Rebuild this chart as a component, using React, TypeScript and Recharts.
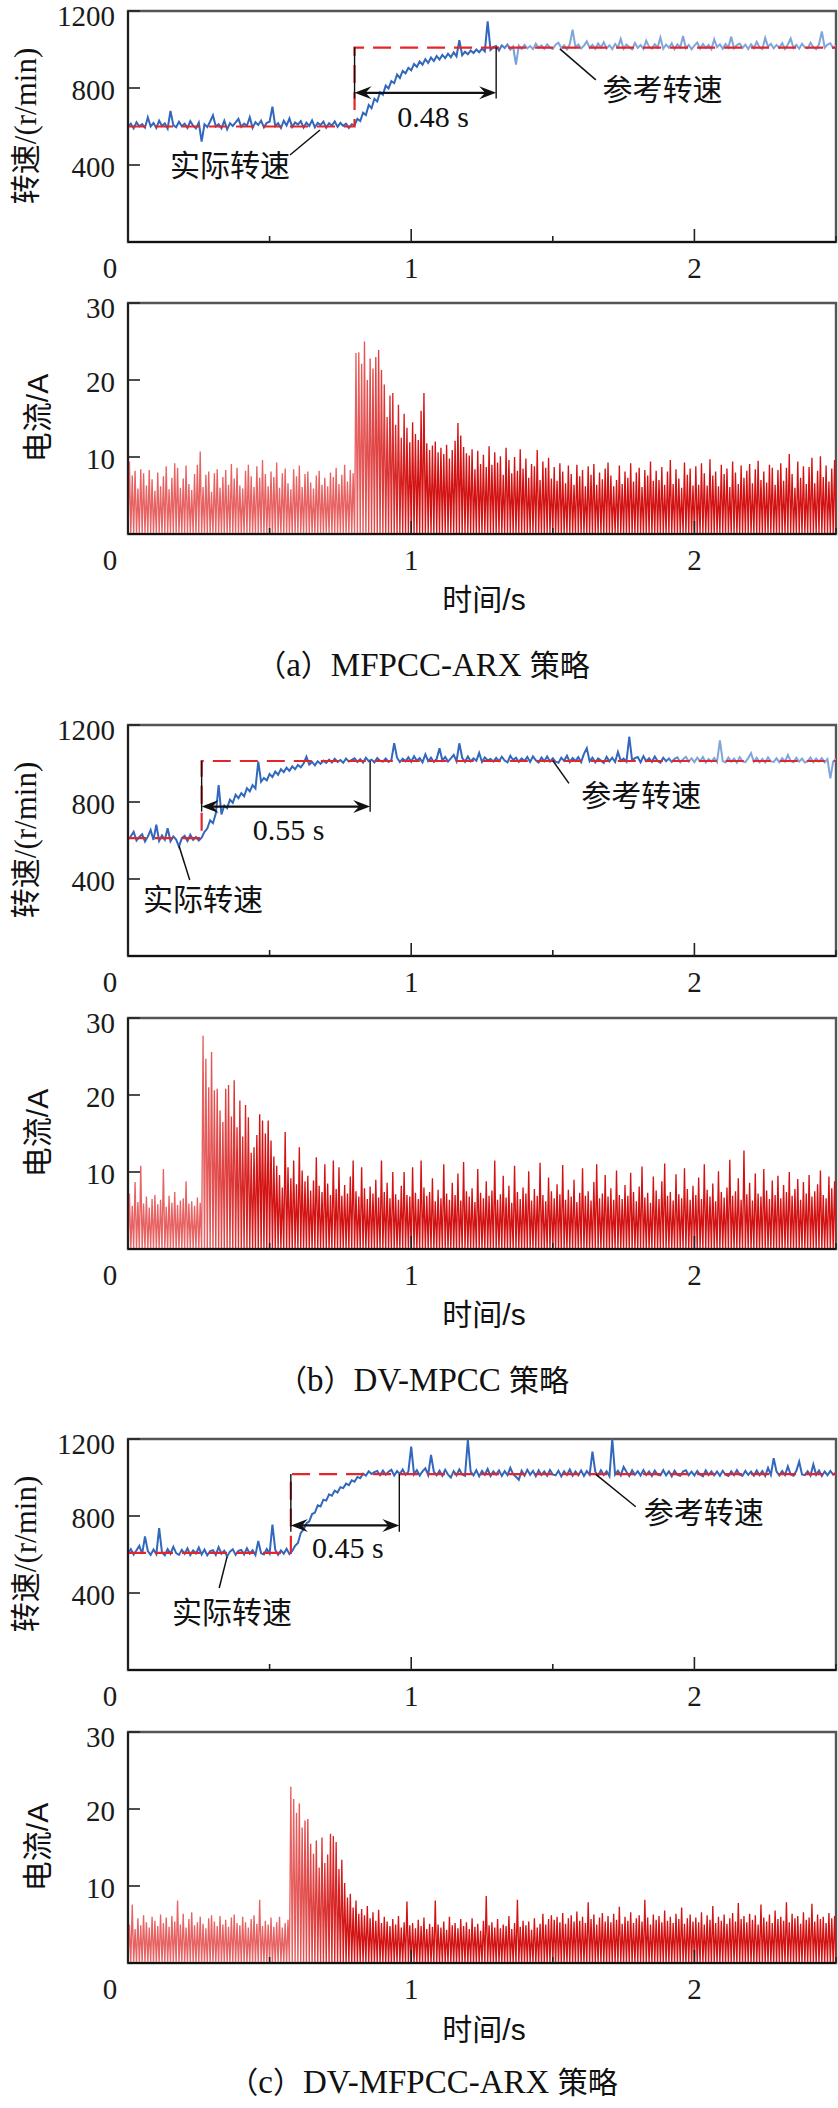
import React from 'react';
import { LineChart, Line, XAxis, YAxis, ReferenceLine, ReferenceDot, ReferenceArea } from 'recharts';

// ---- shared axis definitions ----
const TIME_STEP = 0.01;
const T_END = 2.5;
const X_TICKS = [0, 0.5, 1, 1.5, 2, 2.5];
const SPEED_TICKS = [0, 400, 800, 1200];
const CURRENT_TICKS = [0, 10, 20, 30];

// ---- (a) MFPCC-ARX ----
const SPEED_A = [
  598, 615, 590, 622, 601, 612, 594, 648, 600, 618,
  592, 630, 603, 616, 589, 681, 607, 596, 625, 601,
  614, 593, 628, 604, 590, 620, 522, 611, 597, 626,
  658, 600, 612, 590, 630, 585, 617, 603, 621, 640,
  598, 615, 604, 648, 593, 622, 608, 631, 596, 619,
  625, 703, 602, 617, 592, 630, 605, 642, 598, 621,
  610, 628, 595, 620, 603, 632, 596, 618, 607, 625,
  594, 617, 605, 626, 598, 619, 603, 614, 592, 612,
  606, 640, 628, 672, 660, 712, 695, 744, 730, 778,
  765, 812, 798, 836, 825, 870, 852, 889, 876, 905,
  892, 925, 910, 938, 921, 950, 930, 958, 940, 966,
  948, 972, 955, 978, 960, 985, 964, 1048, 970, 988,
  975, 995, 982, 1000, 986, 1004, 990, 1146, 998, 1012,
  1018, 995, 1022, 1008, 1026, 1000, 1015, 921, 1020, 1003,
  1024, 1006, 1018, 1002, 1030, 1009, 1021, 1004, 1027, 1011,
  1003, 1025, 1035, 1007, 1022, 1001, 1028, 1103, 1012, 1026,
  1005, 1020, 1042, 1009, 1024, 1003, 1031, 1010, 1038, 1006,
  1022, 1002, 1029, 1011, 1055, 1004, 1026, 1013, 1001, 1034,
  1008, 1023, 1003, 1046, 1014, 1005, 1028, 1010, 1062, 1004,
  1025, 1009, 1032, 1002, 1027, 1012, 1070, 1006, 1024, 1001,
  1020, 1036, 1005, 1028, 1008, 1024, 1002, 1052, 1012, 1027,
  1004, 1029, 1010, 1066, 1006, 1023, 1031, 1008, 1025, 1002,
  1027, 1007, 1040, 1012, 1003, 1060, 1014, 1029, 1006, 1024,
  1009, 1033, 1003, 1026, 1057, 1008, 1024, 1004, 1030, 1011,
  1006, 1035, 1012, 1002, 1027, 1094, 1009, 1025, 1032, 1008,
  1020,
];
const REF_A_T = [0, 0.8, 0.8, 2.5];
const REF_A_V = [600, 600, 1010, 1010];
const CURRENT_A = [
  9.4, 7.6, 8.2, 5.9, 8.4, 7.9, 6.3, 8.3, 7.1, 5.6,
  8.0, 6.2, 7.5, 8.8, 5.8, 7.3, 9.2, 8.6, 6.0, 7.2,
  8.9, 6.5, 5.7, 7.8, 9.0, 10.7, 6.1, 7.7, 8.1, 5.5,
  7.9, 8.4, 6.0, 7.4, 8.3, 6.4, 9.1, 7.2, 8.6, 6.3,
  5.9, 8.2, 9.0, 7.5, 6.1, 8.8, 7.3, 9.6, 7.8, 6.2,
  8.1, 7.4, 9.3, 6.0, 7.9, 8.5, 6.6, 5.8, 8.4, 7.5,
  8.9, 6.1, 7.8, 8.1, 6.7, 5.9, 7.6, 8.2, 6.4, 7.3,
  6.2, 8.0, 7.4, 8.6, 6.5, 7.7, 9.0, 6.8, 8.3, 7.9,
  23.5, 23.6, 22.1, 25.0, 20.0, 22.8, 21.5, 23.0, 23.9, 21.3,
  19.4, 15.2, 18.0, 18.3, 14.2, 16.8, 12.5, 15.6, 13.8, 11.9,
  14.5, 13.0, 12.2, 16.0, 18.3, 11.8, 10.9, 11.5, 12.0, 10.6,
  11.2, 10.4, 11.6, 9.8, 10.9, 12.1, 14.4, 12.8, 11.3, 10.5,
  10.2, 11.0, 8.4, 10.8, 9.1, 10.3, 8.7, 11.4, 9.0, 10.6,
  9.3, 10.1, 7.7, 11.2, 9.6, 7.9, 10.0, 8.2, 11.0, 8.5,
  9.8, 7.3, 9.1, 8.8, 10.9, 7.0, 9.4, 8.6, 9.9, 7.2,
  8.7, 6.9, 9.2, 8.1, 6.6, 8.9, 7.8, 6.4, 9.0, 7.5,
  8.3, 6.2, 8.8, 7.7, 9.1, 6.4, 8.0, 7.1, 8.5, 9.3,
  7.6, 6.2, 7.0, 8.9, 6.5, 8.1, 7.3, 9.2, 6.8, 8.0,
  8.6, 6.1, 8.3, 7.6, 9.4, 6.9, 8.2, 7.0, 8.7, 6.4,
  8.1, 9.6, 6.5, 8.4, 7.2, 6.0, 9.3, 7.7, 8.5, 6.3,
  8.8, 6.4, 9.2, 7.9, 6.3, 9.7, 7.6, 8.1, 6.2, 9.0,
  7.8, 8.5, 6.1, 9.4, 8.0, 6.5, 8.9, 7.3, 8.2, 9.1,
  6.6, 8.4, 9.5, 7.0, 8.1, 6.7, 9.0, 8.6, 6.4, 8.3,
  9.2, 6.9, 8.6, 10.4, 7.8, 6.0, 9.4, 7.3, 8.8, 6.5,
  8.7, 9.9, 6.6, 8.2, 10.1, 7.4, 8.9, 6.8, 8.5, 9.6,
];

// ---- (b) DV-MPCC ----
const SPEED_B = [
  604, 622, 645, 600, 618, 632, 595, 620, 655, 603,
  682, 598, 626, 604, 664, 596, 621, 605, 568, 612,
  624, 597, 630, 603, 618, 600, 615, 645, 662, 705,
  690, 740, 888, 735, 782, 768, 812, 796, 838, 820,
  846, 830, 872, 855, 888, 870, 1010, 905, 925, 912,
  945, 930, 958, 942, 970, 955, 978, 962, 985, 970,
  992, 980, 1000, 1035, 995, 1008, 990, 1012, 998, 1015,
  1003, 1020, 1005, 1024, 1008, 1018, 1004, 1026, 1010, 1019,
  1027, 1008, 1022, 1005, 1030, 1012, 1020, 1006, 1028, 1014,
  1010, 1026, 1008, 1018, 1105, 1030, 1007, 1025, 1012, 1032,
  1009, 1038, 1014, 1028, 1006, 1048, 1012, 1030, 1008, 1024,
  1079, 1016, 1034, 1010, 1027, 1045, 1012, 1105, 1030, 1009,
  1036, 1011, 1027, 1014, 1055, 1008, 1032, 1016, 1024, 1010,
  1029, 1012, 1035, 1015, 1006, 1040, 1018, 1030, 1009, 1026,
  1013, 1034, 1008, 1037, 1017, 1005, 1031, 1012, 1036, 1010,
  1027, 1009, 1004, 1030, 1014, 1040, 1008, 1028, 1013, 1033,
  1007, 1050, 1079, 1012, 1030, 1006, 1026, 1015, 1003, 1035,
  1011, 1030, 1008, 1060, 1014, 1025, 1009, 1139, 1016, 1028,
  1034, 1006, 1038, 1012, 1027, 1008, 1036, 1013, 1004, 1030,
  1012, 1026, 1008, 1024, 1032, 1006, 1022, 1035, 1010, 1027,
  1007, 1030, 1012, 1034, 1005, 1024, 1010, 1029, 1008, 1120,
  1013, 1006, 1031, 1010, 1026, 1004, 1033, 1011, 1007, 1028,
  1054, 1009, 1030, 1006, 1024, 1005, 1032, 1011, 1008, 1027,
  1006, 1028, 1010, 1044, 1013, 1007, 1030, 1009, 1025, 1005,
  1012, 1031, 1007, 1026, 1010, 1028, 1006, 1023, 923, 1010,
  1024,
];
const REF_B_T = [0, 0.26, 0.26, 2.5];
const REF_B_V = [612, 612, 1013, 1013];
const CURRENT_B = [
  7.2, 5.6, 8.7, 6.1, 10.8, 5.9, 6.8, 5.4, 6.5, 7.0,
  5.8, 6.4, 10.4, 5.5, 6.9, 6.0, 7.4, 5.7, 6.3, 6.6,
  8.8, 5.9, 6.2, 5.6, 6.7, 6.0, 27.7, 24.7, 21.0, 25.6,
  20.6, 20.8, 18.0, 16.5, 20.8, 21.3, 17.2, 21.9, 15.8, 19.3,
  14.6, 18.7, 17.1, 12.5, 13.2, 14.8, 17.5, 16.7, 15.0, 16.7,
  14.1, 12.0, 10.8, 9.6, 8.0, 15.2, 10.6, 9.2, 11.5, 8.4,
  13.2, 10.2, 8.8, 9.5, 7.6, 8.9, 11.9, 8.2, 7.4, 11.0,
  8.5, 7.0, 11.5, 7.8, 10.6, 6.9, 8.3, 7.2, 9.4, 11.5,
  7.5, 6.8, 10.6, 7.9, 6.5, 8.1, 7.2, 9.0, 6.7, 11.5,
  7.4, 8.6, 6.6, 10.0, 7.1, 6.4, 8.2, 10.0, 7.0, 6.8,
  10.6, 7.3, 6.5, 11.5, 8.0, 6.9, 7.4, 9.2, 6.2, 7.7,
  6.6, 11.0, 7.2, 6.4, 8.6, 7.0, 9.8, 6.3, 11.3, 7.5,
  6.8, 7.9, 6.1, 10.4, 7.3, 6.6, 8.8, 6.9, 7.6, 11.5,
  6.4, 7.1, 9.5, 6.7, 8.2, 6.0, 10.8, 7.4, 6.5, 8.0,
  7.2, 10.1, 6.3, 7.8, 6.9, 11.2, 7.0, 6.2, 9.3, 7.5,
  6.6, 8.4, 7.1, 10.9, 6.4, 7.7, 6.8, 9.0, 6.1, 7.3,
  10.5, 6.9, 7.5, 6.3, 8.7, 11.0, 6.6, 7.2, 9.6, 6.8,
  7.9, 6.4, 10.2, 7.0, 6.5, 8.3, 6.9, 9.9, 7.4, 6.2,
  8.1, 10.7, 6.7, 7.3, 6.0, 9.4, 7.6, 6.5, 8.8, 11.1,
  6.9, 7.4, 6.3, 9.7, 7.1, 6.6, 10.5, 7.8, 6.4, 8.2,
  7.0, 9.3, 6.5, 11.0, 7.7, 6.8, 8.5, 6.2, 10.1, 7.4,
  6.7, 8.0, 11.6, 6.9, 7.5, 9.2, 6.4, 12.8, 7.1, 8.6,
  6.3, 9.8, 7.2, 6.8, 10.4, 7.6, 6.5, 8.9, 7.0, 9.5,
  6.6, 8.3, 7.4, 10.0, 6.9, 7.8, 9.1, 6.4, 8.7, 7.2,
  9.6, 6.8, 7.5, 8.4, 10.2, 7.0, 6.6, 9.4, 7.9, 8.8,
];

// ---- (c) DV-MFPCC-ARX ----
const SPEED_C = [
  606, 628, 600, 622, 645, 603, 694, 618, 598, 626,
  602, 737, 610, 596, 628, 604, 640, 607, 598, 624,
  603, 632, 597, 621, 605, 636, 600, 625, 596, 618,
  622, 598, 638, 604, 620, 590, 615, 627, 598, 619,
  624, 600, 632, 604, 622, 597, 670, 606, 600, 628,
  605, 755, 624, 598, 621, 604, 630, 602, 618, 645,
  660, 712, 730, 762, 772, 810, 818, 856, 850, 885,
  880, 912, 905, 932, 922, 950, 945, 968, 960, 985,
  978, 1003, 996, 1020, 1010, 1032, 1018, 1028, 1034, 1012,
  1036, 1015, 1030, 1040, 1010, 1033, 1018, 1042, 1014, 1031,
  1160, 1016, 1038, 1010, 1032, 1048, 1013, 1117, 1030, 1012,
  1035, 1009, 1040, 1015, 1000, 1033, 1012, 1042, 1016, 1009,
  1195, 1030, 1011, 1038, 1006, 1034, 1014, 1044, 1008, 1032,
  1015, 1037, 1008, 1033, 1012, 1050, 1017, 1004, 988, 1035,
  1010, 1040, 1014, 1034, 1006, 1037, 1013, 1031, 1009, 1039,
  1016, 1011, 1035, 1006, 1032, 1013, 1041, 1009, 1031, 1012,
  1036, 1008, 1033, 1014, 1134, 1030, 1010, 1038, 1013, 1032,
  1007, 1200, 1015, 1035, 1011, 1055, 1030, 1008, 1037, 1014,
  1033, 1010, 1039, 1013, 1031, 1008, 1036, 1015, 1011, 1038,
  1011, 1032, 1006, 1035, 1014, 1009, 1031, 1038, 1012, 1030,
  1010, 1034, 1015, 1006, 1037, 1013, 1032, 1011, 1031, 1009,
  1035, 1014, 1008, 1032, 1012, 1038, 1015, 1009, 1034, 1013,
  1030, 1010, 1036, 1012, 1033, 1008, 1050, 1014, 1100, 1031,
  1011, 1034, 1013, 1058, 1015, 1009, 1035, 1082, 1016, 1012,
  1032, 1010, 1068, 1014, 1036, 1008, 1031, 1012, 1034, 1015,
  1026,
];
const REF_C_T = [0, 0.575, 0.575, 2.5];
const REF_C_V = [608, 608, 1018, 1018];
const CURRENT_C = [
  5.0, 7.6, 4.4, 5.8, 4.9, 6.2, 5.3, 4.6, 6.0, 5.5,
  4.8, 6.3, 5.2, 5.9, 4.7, 6.1, 5.4, 8.1, 5.0, 6.4,
  4.6, 5.7, 6.6, 4.9, 5.3, 6.0, 5.1, 4.5, 5.8, 6.2,
  5.4, 4.8, 6.1, 5.0, 5.6, 4.7, 5.9, 6.3, 5.2, 4.9,
  6.0, 5.3, 4.6, 5.7, 6.2, 5.1, 8.2, 4.8, 5.5, 5.0,
  5.9, 4.7, 5.3, 6.0, 4.6, 5.2, 5.6, 22.9, 21.3, 19.5,
  20.7, 17.6, 18.5, 18.7, 15.5, 14.2, 15.9, 12.4, 16.3, 13.0,
  14.1, 16.8, 16.5, 15.7, 12.2, 13.4, 10.4, 8.5, 9.0, 7.2,
  8.1, 6.4, 7.0, 6.2, 7.4, 5.8, 6.6, 5.5, 6.9, 5.2,
  6.0, 5.4, 4.8, 5.7, 5.0, 6.1, 4.6, 5.3, 8.0, 4.9,
  5.2, 4.5, 5.6, 4.8, 5.9, 4.4, 5.1, 4.7, 8.1, 5.0,
  4.6, 5.4, 4.3, 6.0, 4.9, 5.2, 4.5, 5.7, 4.8, 5.3,
  4.4, 5.8, 4.7, 5.1, 4.2, 5.5, 8.7, 4.9, 5.3, 4.6,
  5.7, 4.5, 5.0, 4.8, 6.1, 4.4, 5.2, 8.2, 4.7, 5.5,
  4.9, 5.4, 4.3, 5.8, 4.6, 5.1, 6.4, 5.0, 5.7, 6.2,
  5.6, 6.0, 5.3, 6.5, 5.1, 5.8, 6.2, 5.4, 6.7, 5.5,
  6.0, 5.2, 7.9, 5.7, 6.3, 5.0, 5.9, 6.5, 5.4, 6.1,
  5.3, 6.4, 5.6, 7.3, 5.1, 6.0, 5.5, 6.6, 5.2, 5.8,
  6.2, 5.4, 8.2, 5.9, 5.0, 6.3, 5.6, 6.1, 5.3, 6.8,
  5.5, 6.0, 5.2, 6.4, 5.7, 7.2, 5.1, 5.8, 6.3, 5.4,
  5.9, 5.3, 6.6, 5.0, 6.2, 5.6, 7.4, 5.2, 6.0, 5.5,
  6.3, 5.1, 5.8, 6.5, 5.4, 7.8, 5.7, 6.1, 5.3, 6.4,
  5.6, 6.2, 5.0, 7.6, 5.9, 5.4, 6.3, 5.2, 6.8, 5.7,
  6.0, 5.5, 7.9, 5.3, 6.4, 5.8, 6.1, 5.1, 6.6, 5.6,
  5.9, 7.7, 5.4, 6.3, 5.7, 6.0, 5.2, 6.5, 5.8, 6.1,
];

// ---- styling ----
const CJK = "'Noto Sans CJK SC', sans-serif";
const SERIF = "'Liberation Serif', 'Times New Roman', serif";
const SANS = "'Liberation Sans', Arial, sans-serif";
const CHART_W = 838;
const PLOT_LEFT = 128;
const PLOT_RIGHT = 836;
const PLOT_H = 231;
const MARGIN_TOP = 20;
const AXIS_H = 45;

type Pt = { t: number; v: number };

// sampled speed: one sample per TIME_STEP
const toSpeedPoints = (vals: number[]): Pt[] => vals.map((v, i) => ({ t: +(i * TIME_STEP).toFixed(3), v }));
// step reference
const toRefPoints = (ts: number[], vs: number[]): Pt[] => ts.map((t, i) => ({ t, v: vs[i] }));
// phase-current pulses: each peak rises from zero and returns to zero
const toCurrentPoints = (peaks: number[]): Pt[] => {
  const pts: Pt[] = [];
  peaks.forEach((p, i) => {
    pts.push({ t: +(i * TIME_STEP).toFixed(4), v: 0 });
    pts.push({ t: +(i * TIME_STEP + TIME_STEP / 2).toFixed(4), v: p });
  });
  pts.push({ t: T_END, v: 0 });
  return pts;
};

function XTick(props: any) {
  const { x, y, payload } = props;
  const val = payload.value as number;
  const major = Number.isInteger(val);
  return (
    <g>
      <line x1={x} x2={x} y1={y} y2={y - (major ? 13 : 6)} stroke="#222" strokeWidth={1.6} />
      {major && (
        <text
          x={val === 0 ? x - 18 : x}
          y={y + 26}
          textAnchor="middle"
          dominantBaseline="central"
          fontFamily={SERIF}
          fontSize={29}
          fill="#1a1a1a"
        >
          {val}
        </text>
      )}
    </g>
  );
}

function makeYTick(maxVal: number) {
  return function YTick(props: any) {
    const { x, y, payload } = props;
    const val = payload.value as number;
    if (val === 0) return <g />;
    const dy = val === maxVal ? 5 : 2;
    return (
      <g>
        <line x1={x} x2={x + 12} y1={y} y2={y} stroke="#222" strokeWidth={1.6} />
        <text x={x - 13} y={y + dy} textAnchor="end" dominantBaseline="central" fontFamily={SERIF} fontSize={29} fill="#1a1a1a">
          {val}
        </text>
      </g>
    );
  };
}
const SpeedYTick = makeYTick(1200);
const CurrentYTick = makeYTick(30);

// double-headed dimension arrow
const arrowShape = (p: any) => {
  const { x1, y1, x2, y2 } = p;
  const L = 17;
  const W = 6.5;
  const N = 11;
  return (
    <g>
      <line x1={x1 + 6} y1={y1} x2={x2 - 6} y2={y2} stroke="#111" strokeWidth={2.2} />
      <polygon points={`${x1},${y1} ${x1 + L},${y1 - W} ${x1 + N},${y1} ${x1 + L},${y1 + W}`} fill="#111" />
      <polygon points={`${x2},${y2} ${x2 - L},${y2 - W} ${x2 - N},${y2} ${x2 - L},${y2 + W}`} fill="#111" />
    </g>
  );
};

const thinLine = (w: number) => (p: any) => (
  <line x1={p.x1} y1={p.y1} x2={p.x2} y2={p.y2} stroke="#111" strokeWidth={w} />
);

const textShape = (content: React.ReactNode, family: string, size: number) => (p: any) => (
  <text x={p.cx} y={p.cy} textAnchor="middle" dominantBaseline="central" fontFamily={family} fontSize={size} fill="#111">
    {content}
  </text>
);

type SpeedNote = {
  stepT: number;
  endT: number;
  top: number;
  bottom: number;
  arrowV: number;
  durText: string;
  durT: number;
  durV: number;
  actT: number;
  actV: number;
  actLead: [number, number, number, number];
  refT: number;
  refV: number;
  refLead: [number, number, number, number];
};

function SpeedPanel({ id, top, speed, refT, refV, fadeT, note }: { id: string; top: number; speed: number[]; refT: number[]; refV: number[]; fadeT: number; note: SpeedNote }) {
  const sp = toSpeedPoints(speed);
  const rf = toRefPoints(refT, refV);
  const fadeOff = fadeT / T_END;
  return (
    <div style={{ position: 'absolute', left: 0, top: top - MARGIN_TOP }}>
      <LineChart width={CHART_W} height={MARGIN_TOP + PLOT_H + AXIS_H} margin={{ top: MARGIN_TOP, right: CHART_W - PLOT_RIGHT, bottom: 0, left: 0 }}>
        <defs>
          <linearGradient id={id} gradientUnits="userSpaceOnUse" x1={PLOT_LEFT} x2={PLOT_RIGHT} y1={0} y2={0}>
            <stop offset={0} stopColor="#3167bc" />
            <stop offset={Math.min(fadeOff, 1)} stopColor="#3167bc" />
            <stop offset={Math.min(fadeOff + 0.03, 1)} stopColor="#7fa5da" />
            <stop offset={1} stopColor="#7fa5da" />
          </linearGradient>
        </defs>
        <ReferenceArea x1={0} x2={T_END} y1={0} y2={1200} fill="none" stroke="#555" strokeWidth={2.4} ifOverflow="visible" />
        <XAxis type="number" dataKey="t" domain={[0, T_END]} ticks={X_TICKS} interval={0} tickLine={false} tickSize={0} tickMargin={0} tick={(p: any) => <XTick {...p} />} axisLine={{ stroke: '#111', strokeWidth: 2 }} height={AXIS_H} allowDataOverflow />
        <YAxis type="number" dataKey="v" domain={[0, 1200]} ticks={SPEED_TICKS} interval={0} tickLine={false} tickSize={0} tickMargin={0} tick={(p: any) => <SpeedYTick {...p} />} axisLine={{ stroke: '#111', strokeWidth: 1.6 }} width={PLOT_LEFT} allowDataOverflow />
        <Line data={sp} dataKey="v" type="linear" stroke={`url(#${id})`} strokeWidth={2} strokeLinejoin="miter" dot={false} activeDot={false} isAnimationActive={false} />
        <Line data={rf} dataKey="v" type="linear" stroke="#e3262b" strokeWidth={2.2} strokeDasharray="18 9" dot={false} activeDot={false} isAnimationActive={false} />
        <ReferenceLine segment={[{ x: note.stepT, y: note.top }, { x: note.stepT, y: note.bottom }]} shape={thinLine(1.4)} />
        <ReferenceLine segment={[{ x: note.endT, y: note.top }, { x: note.endT, y: note.bottom }]} shape={thinLine(1.4)} />
        <ReferenceLine segment={[{ x: note.stepT, y: note.arrowV }, { x: note.endT, y: note.arrowV }]} shape={arrowShape} />
        <ReferenceLine segment={[{ x: note.actLead[0], y: note.actLead[1] }, { x: note.actLead[2], y: note.actLead[3] }]} shape={thinLine(1.5)} />
        <ReferenceLine segment={[{ x: note.refLead[0], y: note.refLead[1] }, { x: note.refLead[2], y: note.refLead[3] }]} shape={thinLine(1.5)} />
        <ReferenceDot x={note.durT} y={note.durV} r={0} shape={textShape(note.durText, SERIF, 30)} />
        <ReferenceDot x={note.actT} y={note.actV} r={0} shape={textShape('实际转速', CJK, 30)} />
        <ReferenceDot x={note.refT} y={note.refV} r={0} shape={textShape('参考转速', CJK, 30)} />
      </LineChart>
    </div>
  );
}

function CurrentPanel({ id, top, peaks, stepT }: { id: string; top: number; peaks: number[]; stepT: number }) {
  const pts = toCurrentPoints(peaks);
  const a = stepT / T_END;
  return (
    <div style={{ position: 'absolute', left: 0, top: top - MARGIN_TOP }}>
      <LineChart width={CHART_W} height={MARGIN_TOP + PLOT_H + AXIS_H} margin={{ top: MARGIN_TOP, right: CHART_W - PLOT_RIGHT, bottom: 0, left: 0 }}>
        <defs>
          <linearGradient id={id} gradientUnits="userSpaceOnUse" x1={PLOT_LEFT} x2={PLOT_RIGHT} y1={0} y2={0}>
            <stop offset={0} stopColor="#e76262" />
            <stop offset={a} stopColor="#e76262" />
            <stop offset={Math.min(a + 0.08, 1)} stopColor="#d31313" />
            <stop offset={1} stopColor="#d31313" />
          </linearGradient>
        </defs>
        <ReferenceArea x1={0} x2={T_END} y1={0} y2={30} fill="none" stroke="#555" strokeWidth={2.4} ifOverflow="visible" />
        <XAxis type="number" dataKey="t" domain={[0, T_END]} ticks={X_TICKS} interval={0} tickLine={false} tickSize={0} tickMargin={0} tick={(p: any) => <XTick {...p} />} axisLine={{ stroke: '#111', strokeWidth: 2 }} height={AXIS_H} allowDataOverflow />
        <YAxis type="number" dataKey="v" domain={[0, 30]} ticks={CURRENT_TICKS} interval={0} tickLine={false} tickSize={0} tickMargin={0} tick={(p: any) => <CurrentYTick {...p} />} axisLine={{ stroke: '#111', strokeWidth: 1.6 }} width={PLOT_LEFT} allowDataOverflow />
        <Line data={pts} dataKey="v" type="linear" stroke={`url(#${id})`} strokeWidth={1.35} dot={false} activeDot={false} isAnimationActive={false} />
      </LineChart>
    </div>
  );
}

const centered = (x: number, y: number, extra: React.CSSProperties = {}): React.CSSProperties => ({
  position: 'absolute',
  left: x,
  top: y,
  transform: 'translate(-50%, -50%)',
  whiteSpace: 'nowrap',
  lineHeight: 1,
  color: '#111',
  ...extra,
});

// rotated axis title, laid out in a fixed-width box that starts at the left page edge
const rotatedBox = (cx: number, cy: number, boxW: number, size: number): React.CSSProperties => ({
  position: 'absolute',
  left: 0,
  top: cy - size / 2,
  width: boxW,
  height: size,
  lineHeight: `${size}px`,
  fontSize: size,
  textAlign: 'center',
  whiteSpace: 'nowrap',
  color: '#111',
  transform: `translateX(${cx - boxW / 2}px) rotate(-90deg)`,
});

function SpeedTitle({ y }: { y: number }) {
  return (
    <div style={rotatedBox(23, y, 210, 30)}>
      <span style={{ fontFamily: CJK }}>转速</span>
      <span style={{ fontFamily: SERIF, fontSize: 31 }}>/(r/min)</span>
    </div>
  );
}

function CurrentTitle({ y }: { y: number }) {
  return (
    <div style={rotatedBox(35, y, 120, 30)}>
      <span style={{ fontFamily: CJK }}>电流</span>
      <span style={{ fontFamily: SANS }}>/A</span>
    </div>
  );
}

function TimeTitle({ y }: { y: number }) {
  return (
    <div style={centered(484, y, { fontSize: 30 })}>
      <span style={{ fontFamily: CJK }}>时间</span>
      <span style={{ fontFamily: SANS }}>/s</span>
    </div>
  );
}

function Caption({ y, tag, name }: { y: number; tag: string; name: string }) {
  return (
    <div style={centered(423, y, { fontSize: 30 })}>
      <span style={{ fontFamily: CJK }}>（</span>
      <span style={{ fontFamily: SERIF, fontSize: 33 }}>{tag}</span>
      <span style={{ fontFamily: CJK }}>）</span>
      <span style={{ fontFamily: SERIF, fontSize: 33 }}>{name} </span>
      <span style={{ fontFamily: CJK }}>策略</span>
    </div>
  );
}

const NOTE_A: SpeedNote = {
  stepT: 0.8, endT: 1.3, top: 1012, bottom: 745, arrowV: 775,
  durText: '0.48 s', durT: 1.077, durV: 651,
  actT: 0.36, actV: 409, actLead: [0.572, 452, 0.678, 582],
  refT: 1.887, refV: 804, refLead: [1.652, 842, 1.525, 1003],
};
const NOTE_B: SpeedNote = {
  stepT: 0.26, endT: 0.855, top: 1013, bottom: 750, arrowV: 776,
  durText: '0.55 s', durT: 0.567, durV: 655,
  actT: 0.265, actV: 308, actLead: [0.218, 395, 0.18, 573],
  refT: 1.812, refV: 845, refLead: [1.557, 897, 1.5, 1015],
};
const NOTE_C: SpeedNote = {
  stepT: 0.575, endT: 0.958, top: 1018, bottom: 718, arrowV: 751,
  durText: '0.45 s', durT: 0.776, durV: 634,
  actT: 0.367, actV: 312, actLead: [0.322, 426, 0.35, 589],
  refT: 2.033, refV: 831, refLead: [1.793, 848, 1.652, 1016],
};

export default function App() {
  return (
    <div style={{ position: 'fixed', left: 0, top: 0, width: 838, height: 2108, overflow: 'hidden', background: '#fff' }}>
      <SpeedPanel id="spA" top={11} speed={SPEED_A} refT={REF_A_T} refV={REF_A_V} fadeT={1.3} note={NOTE_A} />
      <CurrentPanel id="cuA" top={303} peaks={CURRENT_A} stepT={0.8} />
      <SpeedTitle y={126} />
      <CurrentTitle y={418} />
      <TimeTitle y={598} />
      <Caption y={665} tag="a" name="MFPCC-ARX" />

      <SpeedPanel id="spB" top={725} speed={SPEED_B} refT={REF_B_T} refV={REF_B_V} fadeT={1.89} note={NOTE_B} />
      <CurrentPanel id="cuB" top={1018} peaks={CURRENT_B} stepT={0.26} />
      <SpeedTitle y={840} />
      <CurrentTitle y={1133} />
      <TimeTitle y={1313} />
      <Caption y={1380} tag="b" name="DV-MPCC" />

      <SpeedPanel id="spC" top={1439} speed={SPEED_C} refT={REF_C_T} refV={REF_C_V} fadeT={3} note={NOTE_C} />
      <CurrentPanel id="cuC" top={1732} peaks={CURRENT_C} stepT={0.575} />
      <SpeedTitle y={1554} />
      <CurrentTitle y={1847} />
      <TimeTitle y={2028} />
      <Caption y={2082} tag="c" name="DV-MFPCC-ARX" />
    </div>
  );
}
